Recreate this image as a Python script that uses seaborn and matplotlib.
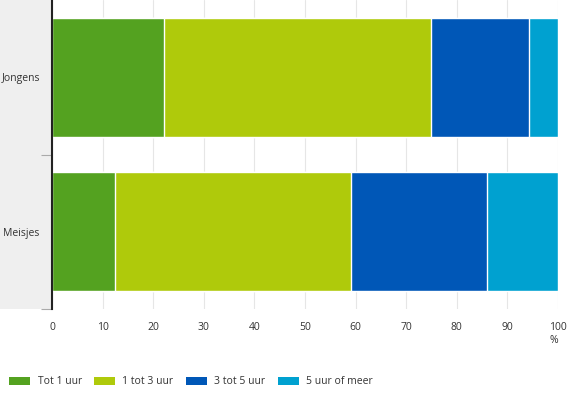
import numpy as np
import pandas as pd
import matplotlib
matplotlib.use("Agg")
import matplotlib.pyplot as plt
from matplotlib.patches import Rectangle, Patch
import seaborn as sns

groups = ["Jongens", "Meisjes"]
categories = ["Tot 1 uur", "1 tot 3 uur", "3 tot 5 uur", "5 uur of meer"]
tot_1 = [22.1, 12.4]
een_3 = [52.8, 46.7]
drie_5 = [19.4, 26.9]
vijf_meer = [5.7, 14.0]
colors = ["#54a220", "#afca0b", "#0057b7", "#00a1d0"]

sns.set_style("white")
plt.rcParams["font.family"] = ["Open Sans", "DejaVu Sans"]

values = np.array([tot_1, een_3, drie_5, vijf_meer])
cum = np.cumsum(values, axis=0)

fig = plt.figure(figsize=(5.7, 3.94), dpi=100)
ax = fig.add_axes([52 / 570, 1 - 309 / 394, 506 / 570, 309 / 394])

# grey label band on the left
fig.patches.append(Rectangle((0, 1 - 309 / 394), 52 / 570, 309 / 394,
                             transform=fig.transFigure, facecolor="#efefef",
                             edgecolor="none", zorder=-5))

# stacked bars: draw cumulative totals from largest to smallest
for i in range(len(categories) - 1, -1, -1):
    df = pd.DataFrame({"groep": groups, "waarde": cum[i]})
    sns.barplot(data=df, y="groep", x="waarde", color=colors[i], orient="h",
                width=0.77, edgecolor="white", linewidth=1, ax=ax,
                saturation=1, zorder=2)

ax.set_xlim(0, 100)
ax.set_ylim(1.5, -0.5)
ax.set_xticks(np.arange(0, 101, 10))
ax.grid(axis="x", color="#e6e6e6", linewidth=0.8, zorder=0)
ax.set_axisbelow(True)
ax.set_ylabel("")
ax.set_xlabel("%", loc="right", fontsize=7.5, color="#333333", labelpad=2)
ax.tick_params(axis="x", length=0, pad=9, labelsize=7.5, labelcolor="#333333")
ax.tick_params(axis="y", length=0, pad=22, labelsize=7.5, labelcolor="#333333")
for lbl in ax.get_yticklabels():
    lbl.set_horizontalalignment("center")
ax.set_yticks([0.5, 1.5], minor=True)
ax.tick_params(axis="y", which="minor", left=True, length=8, color="#aaaaaa", width=0.8)

for s in ["top", "right", "bottom"]:
    ax.spines[s].set_visible(False)
ax.spines["left"].set_color("#222222")
ax.spines["left"].set_linewidth(1.5)
ax.patch.set_alpha(0)

handles = [Patch(facecolor=c, edgecolor="none") for c in colors]
fig.legend(handles, categories, loc="center left", bbox_to_anchor=(0.0, 1 - 382 / 394),
           ncol=4, frameon=False, fontsize=7.5, handlelength=2.0, handleheight=0.9,
           handletextpad=0.7, columnspacing=1.2, labelcolor="#333333")

fig.savefig("out.png", dpi=100)
